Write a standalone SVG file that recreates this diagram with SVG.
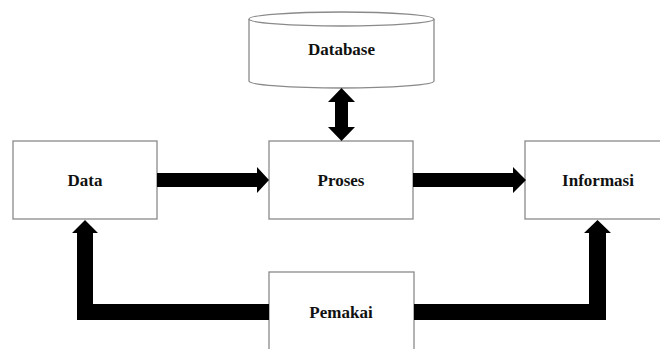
<svg xmlns="http://www.w3.org/2000/svg" width="660" height="349" viewBox="0 0 660 349">
<style>
.box{fill:#fff;stroke:#8a8a8a;stroke-width:1.3}
.lbl{font-family:"Liberation Serif","Times New Roman",serif;font-weight:bold;font-size:17px;fill:#111;text-anchor:middle}
.arr{fill:#000;stroke:none}
</style>
<rect width="660" height="349" fill="#fff"/>
<g id="database">
<path class="box" d="M249,19 L249,81 A92.5,7 0 0 0 434,81 L434,19"/>
<ellipse class="box" cx="341.5" cy="19" rx="92.5" ry="7"/>
<text class="lbl" x="341.5" y="55">Database</text>
</g>
<g id="data">
<rect class="box" x="13" y="141" width="144" height="78"/>
<text class="lbl" x="85" y="186">Data</text>
</g>
<g id="proses">
<rect class="box" x="269" y="141" width="144" height="78"/>
<text class="lbl" x="341" y="186">Proses</text>
</g>
<g id="informasi">
<rect class="box" x="525" y="141" width="145" height="78"/>
<text class="lbl" x="598" y="186">Informasi</text>
</g>
<g id="pemakai">
<rect class="box" x="269" y="272" width="145" height="90"/>
<text class="lbl" x="341" y="318">Pemakai</text>
</g>
<g id="connectors">
<path class="arr" d="M157,173 L257,173 L257,167 L269,180 L257,193 L257,187 L157,187 Z"/>
<path class="arr" d="M413,173 L513,173 L513,167 L526,180 L513,193 L513,187 L413,187 Z"/>
<path class="arr" d="M341.5,88 L355,102 L348,102 L348,127 L355,127 L341.5,141 L328,127 L335,127 L335,102 L328,102 Z"/>
<path class="arr" d="M269,304 L93,304 L93,233 L98,233 L85,220 L72,233 L77,233 L77,320 L269,320 Z"/>
<path class="arr" d="M414,304 L589,304 L589,233 L584,233 L597.5,220 L611,233 L606,233 L606,320 L414,320 Z"/>
</g>
</svg>
